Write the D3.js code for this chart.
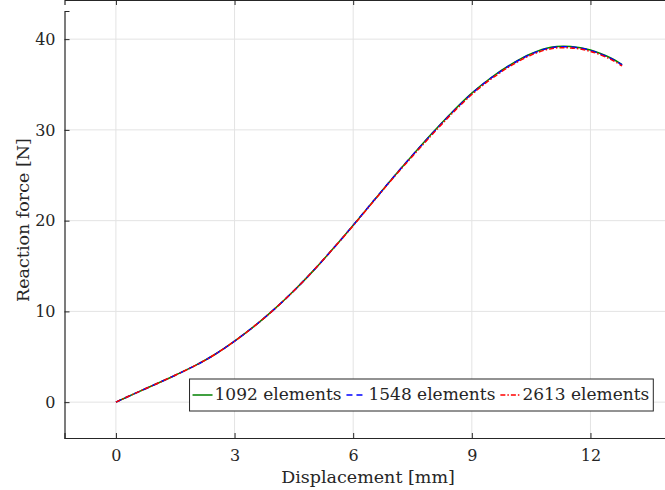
<!DOCTYPE html>
<html>
<head>
    <meta charset="utf-8">
    <title>Reaction force vs displacement</title>
    <style>
        body { margin: 0; background: #fff; }
        text { font-family: "DejaVu Serif", serif; fill: #262626; }
    </style>
    <script src="https://d3js.org/d3.v7.js"></script>
</head>
<body>
<div id="chart"></div>
<script>

// displacement [mm]
var displacement = [0, 0.5, 1, 1.5, 2, 2.5, 3, 3.5, 4, 4.5, 5, 5.5, 6, 6.5, 7, 7.5, 8, 8.5, 9, 9.5, 10, 10.5, 11, 11.5, 12, 12.5, 12.8];

// reaction force [N], one array per mesh
var force1092 = [0, 1.0, 1.97, 2.97, 4.02, 5.25, 6.72, 8.37, 10.22, 12.27, 14.52, 16.95, 19.5, 22.1, 24.7, 27.2, 29.65, 31.95, 34.05, 35.8, 37.25, 38.4, 39.1, 39.18, 38.8, 37.95, 37.2];
var force1548 = [0, 1.0, 1.97, 2.97, 4.02, 5.25, 6.72, 8.37, 10.22, 12.27, 14.52, 16.95, 19.5, 22.1, 24.7, 27.2, 29.6, 31.9, 34.0, 35.75, 37.2, 38.35, 39.05, 39.13, 38.75, 37.9, 37.15];
var force2613 = [0, 1.0, 1.97, 2.97, 4.02, 5.25, 6.72, 8.37, 10.22, 12.27, 14.52, 16.95, 19.45, 22.05, 24.65, 27.1, 29.5, 31.8, 33.9, 35.65, 37.1, 38.25, 38.95, 39.03, 38.65, 37.8, 37.05];

var seriesNames = ["1092 elements", "1548 elements", "2613 elements"];
var xTicks = [0, 3, 6, 9, 12];
var yTicks = [0, 10, 20, 30, 40];

var series = [
    { name: seriesNames[0], values: force1092, color: "#008000", dash: null },
    { name: seriesNames[1], values: force1548, color: "#0000ff", dash: "6,4" },
    { name: seriesNames[2], values: force2613, color: "#ff0000", dash: "5,2,1.5,2" }
];

var width = 665, height = 490;
var svg = d3.select("#chart").append("svg")
    .attr("width", width)
    .attr("height", height);

var x = d3.scaleLinear().domain([-1.3, 13.9]).range([64.5, 665.6]);
var y = d3.scaleLinear().domain([-3.95, 43.1]).range([438, 11]);

var left = x.range()[0], right = x.range()[1], top = y.range()[1], bottom = y.range()[0];

// grid
svg.append("g").selectAll("line")
    .data(xTicks).enter().append("line")
    .attr("x1", d => x(d)).attr("x2", d => x(d))
    .attr("y1", top).attr("y2", bottom)
    .attr("stroke", "#e3e3e3");
svg.append("g").selectAll("line")
    .data(yTicks).enter().append("line")
    .attr("x1", left).attr("x2", right)
    .attr("y1", d => y(d)).attr("y2", d => y(d))
    .attr("stroke", "#e3e3e3");

// curves
var line = d3.line()
    .x((d, i) => x(displacement[i]))
    .y(d => y(d))
    .curve(d3.curveCatmullRom);

series.forEach(function(s) {
    svg.append("path")
        .datum(s.values)
        .attr("d", line)
        .attr("fill", "none")
        .attr("stroke", s.color)
        .attr("stroke-width", 1.5)
        .attr("stroke-dasharray", s.dash);
});

// axes (ticks inside, box)
var xAxis = svg.append("g")
    .attr("transform", "translate(0," + bottom + ")")
    .call(d3.axisBottom(x).tickValues(xTicks).tickSize(-5).tickPadding(12));
var yAxis = svg.append("g")
    .attr("transform", "translate(" + left + ",0)")
    .call(d3.axisLeft(y).tickValues(yTicks).tickSize(-5).tickPadding(9));
var xTop = svg.append("g")
    .attr("transform", "translate(0," + top + ")")
    .call(d3.axisTop(x).tickValues(xTicks).tickSize(-5).tickFormat(""));

[xAxis, yAxis, xTop].forEach(function(g) {
    g.selectAll("path").attr("stroke", "#262626").attr("stroke-width", 1.2);
    g.selectAll("line").attr("stroke", "#262626");
    g.selectAll("text").style("font-family", "DejaVu Serif").style("font-size", "16px").attr("fill", "#262626");
});
xAxis.selectAll("text").attr("dy", "0.71em");

// axis labels
svg.append("text")
    .attr("x", 368).attr("y", 478)
    .attr("text-anchor", "middle")
    .attr("dominant-baseline", "middle")
    .style("font-size", "17.5px")
    .text("Displacement [mm]");

svg.append("text")
    .attr("transform", "translate(24,220) rotate(-90)")
    .attr("text-anchor", "middle")
    .attr("dominant-baseline", "middle")
    .style("font-size", "17.5px")
    .text("Reaction force [N]");

// legend
var legend = svg.append("g");
var box = legend.append("rect")
    .attr("fill", "#fff")
    .attr("stroke", "#262626")
    .attr("stroke-width", 1);

var cx = 0;
series.forEach(function(s, i) {
    var g = legend.append("g").attr("transform", "translate(" + cx + ",0)");
    g.append("line")
        .attr("x1", 3).attr("x2", 23)
        .attr("y1", 0).attr("y2", 0)
        .attr("stroke", s.color)
        .attr("stroke-width", 1.5)
        .attr("stroke-dasharray", s.dash);
    var t = g.append("text")
        .attr("x", 25).attr("y", 0)
        .attr("dominant-baseline", "middle")
        .style("font-size", "17px")
        .attr("fill", "#000")
        .text(s.name);
    cx += 25 + t.node().getComputedTextLength() + 2;
});
var boxW = cx + 2, boxH = 32;
box.attr("x", 0).attr("y", -boxH / 2).attr("width", boxW).attr("height", boxH);
legend.attr("transform", "translate(" + (653.3 - boxW) + "," + 395 + ")");

</script>
</body>
</html>
